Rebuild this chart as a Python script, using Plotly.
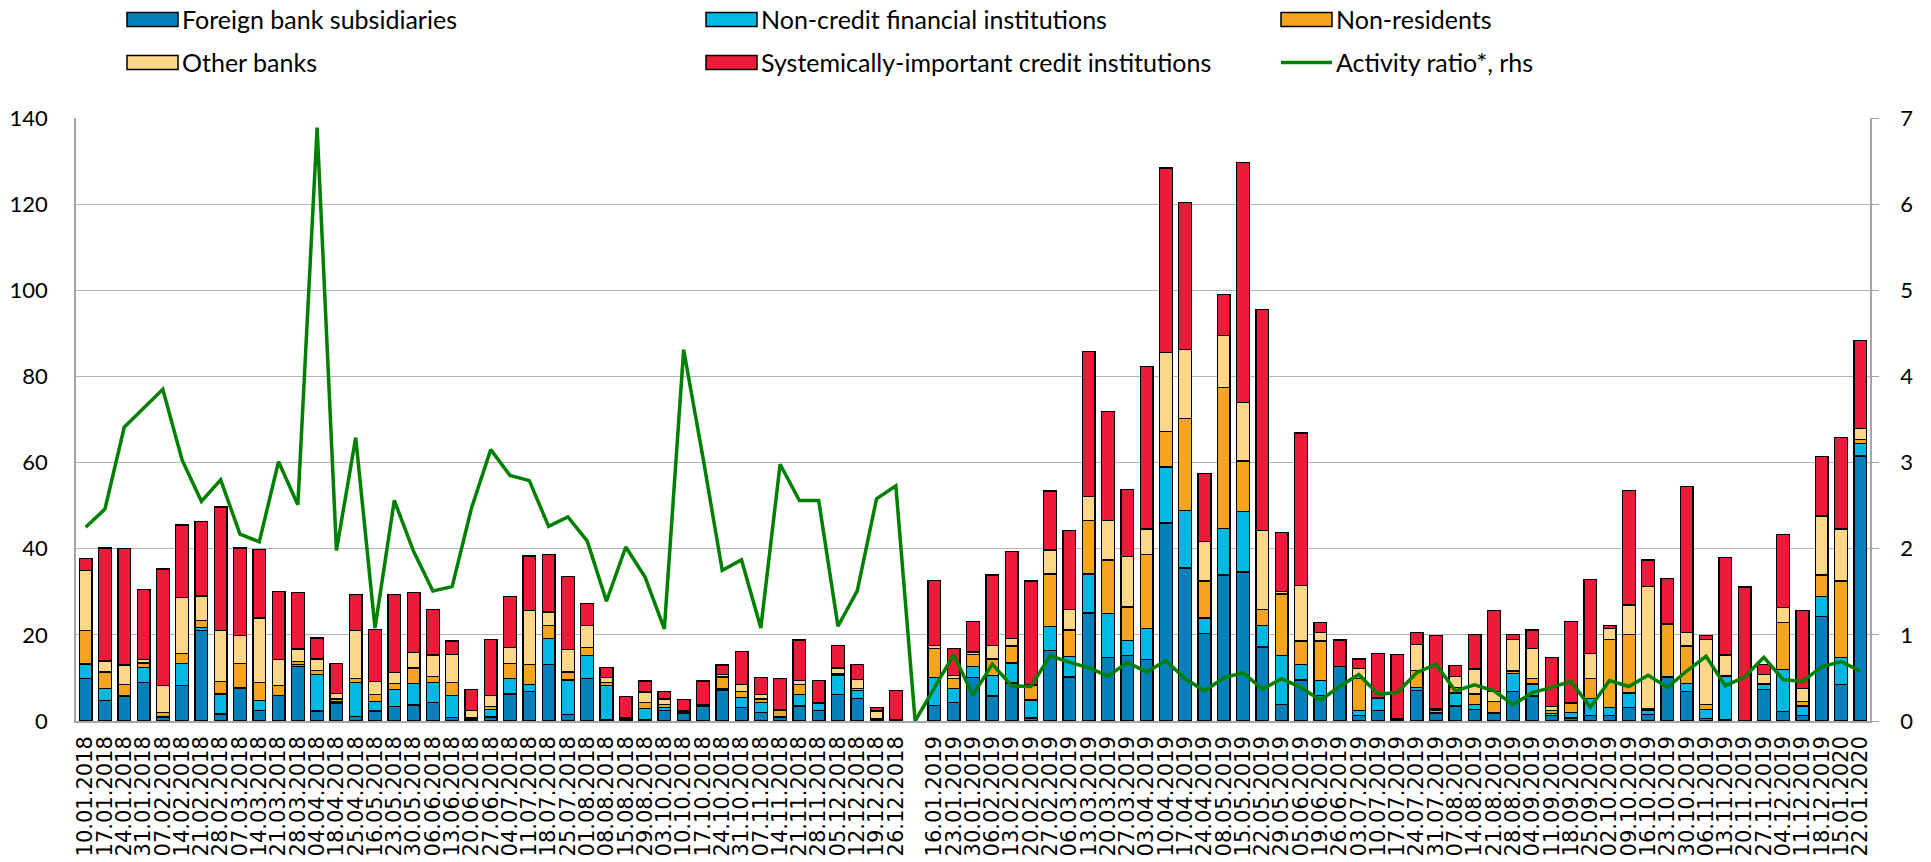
import plotly.graph_objects as go

dates = [
    "10.01.2018", "17.01.2018", "24.01.2018", "31.01.2018", "07.02.2018", "14.02.2018", "21.02.2018",
    "28.02.2018", "07.03.2018", "14.03.2018", "21.03.2018", "28.03.2018", "04.04.2018", "18.04.2018",
    "25.04.2018", "16.05.2018", "23.05.2018", "30.05.2018", "06.06.2018", "13.06.2018", "20.06.2018",
    "27.06.2018", "04.07.2018", "11.07.2018", "18.07.2018", "25.07.2018", "01.08.2018", "08.08.2018",
    "15.08.2018", "29.08.2018", "03.10.2018", "10.10.2018", "17.10.2018", "24.10.2018", "31.10.2018",
    "07.11.2018", "14.11.2018", "21.11.2018", "28.11.2018", "05.12.2018", "12.12.2018", "19.12.2018",
    "26.12.2018", " ",
    "16.01.2019", "23.01.2019", "30.01.2019", "06.02.2019", "13.02.2019", "20.02.2019", "27.02.2019",
    "06.03.2019", "13.03.2019", "20.03.2019", "27.03.2019", "03.04.2019", "10.04.2019", "17.04.2019",
    "24.04.2019", "08.05.2019", "15.05.2019", "22.05.2019", "29.05.2019", "05.06.2019", "19.06.2019",
    "26.06.2019", "03.07.2019", "10.07.2019", "17.07.2019", "24.07.2019", "31.07.2019", "07.08.2019",
    "14.08.2019", "21.08.2019", "28.08.2019", "04.09.2019", "11.09.2019", "18.09.2019", "25.09.2019",
    "02.10.2019", "09.10.2019", "16.10.2019", "23.10.2019", "30.10.2019", "06.11.2019", "13.11.2019",
    "20.11.2019", "27.11.2019", "04.12.2019", "11.12.2019", "18.12.2019", "15.01.2020", "22.01.2020",
]

foreign_bank_subsidiaries = [
    9.85, 4.7, 5.7, 9.0, 0.9, 8.2, 21.0, 1.6, 7.5, 2.4, 5.9, 12.7, 2.3, 4.2, 1.1, 2.3, 3.3, 3.7, 4.3, 0.8, 0.2,
    0.9, 6.3, 6.8, 13.1, 1.5, 9.8, 0.2, 0.1, 0.3, 2.4, 1.7, 3.5, 7.1, 3.1, 2.0, 0.8, 3.5, 2.5, 6.2, 5.2, 0.3,
    0.2, None,
    3.6, 4.3, 10.1, 5.8, 8.8, 0.7, 16.4, 10.2, 25.1, 14.7, 15.2, 14.3, 46.0, 35.5, 20.3, 33.9, 34.6, 17.2,
    3.8, 9.5, 6.0, 12.7, 1.2, 2.4, 0.3, 7.1, 1.7, 3.5, 2.7, 1.7, 6.9, 5.8, 1.3, 0.7, 1.3, 1.3, 3.2, 1.5,
    10.1, 6.9, 0.6, 0.2, 0.1, 7.3, 2.2, 1.2, 24.3, 8.5, 61.5,
]
non_credit_financial = [
    3.4, 2.8, 0.2, 3.5, 0.1, 5.2, 0.7, 4.7, 0.3, 2.3, 0.1, 0.5, 8.5, 0.4, 7.8, 2.2, 4.0, 5.0, 4.6, 5.1, 0.1,
    1.7, 3.6, 1.6, 6.0, 8.0, 5.4, 8.0, 0.0, 2.6, 0.7, 0.1, 0.0, 0.3, 2.3, 2.3, 0.3, 2.7, 1.5, 4.4, 1.9, 0.1,
    0.0, None,
    6.5, 3.2, 2.6, 4.8, 4.7, 4.2, 5.5, 4.7, 9.0, 10.3, 3.5, 7.2, 13.0, 13.4, 3.6, 10.8, 14.0, 5.0,
    11.4, 3.7, 3.4, 0.0, 1.2, 2.8, 0.1, 0.7, 0.3, 3.0, 1.1, 0.2, 4.1, 2.8, 0.5, 1.2, 3.9, 1.9, 3.3, 1.0,
    0.2, 1.8, 2.0, 10.1, 0.0, 1.1, 9.7, 2.3, 4.6, 6.2, 3.0,
]
non_residents = [
    7.7, 3.9, 2.6, 1.0, 1.0, 2.2, 1.6, 2.9, 5.6, 4.2, 2.3, 0.6, 0.9, 0.5, 1.0, 1.7, 1.4, 3.6, 1.5, 3.1, 0.4,
    0.8, 3.4, 4.8, 3.0, 1.9, 1.9, 0.8, 0.3, 1.4, 0.7, 0.2, 0.0, 2.8, 1.5, 0.8, 1.3, 2.3, 0.3, 0.3, 0.5, 0.2,
    0.0, None,
    6.7, 2.4, 2.8, 3.8, 3.9, 3.3, 12.2, 6.2, 12.4, 12.4, 7.8, 17.2, 8.2, 21.4, 8.6, 32.7, 11.8, 3.7,
    14.3, 5.4, 9.2, 0.0, 7.5, 0.3, 0.1, 4.0, 0.4, 1.2, 2.5, 2.7, 0.6, 1.3, 0.6, 2.1, 4.7, 15.8, 13.6, 0.3,
    12.2, 8.7, 1.2, 0.2, 0.0, 0.2, 11.0, 1.0, 5.0, 17.8, 0.9,
]
other_banks = [
    14.0, 2.5, 4.5, 0.8, 6.3, 13.0, 5.7, 11.8, 6.4, 15.0, 5.9, 2.9, 2.7, 1.3, 11.1, 3.0, 2.6, 3.6, 4.9, 6.5,
    1.8, 2.5, 3.7, 12.5, 3.2, 5.2, 5.1, 1.1, 0.3, 2.4, 1.3, 0.3, 0.3, 0.6, 1.5, 1.1, 0.2, 0.9, 0.0, 1.4, 2.0,
    1.7, 0.1, None,
    0.7, 0.7, 0.5, 3.2, 1.8, 0.2, 5.6, 4.8, 5.6, 9.2, 11.7, 5.9, 18.4, 16.0, 9.2, 12.1, 13.5, 18.3,
    0.5, 12.9, 2.0, 0.0, 2.3, 0.0, 0.0, 5.9, 0.4, 2.6, 5.8, 2.3, 7.4, 6.9, 1.0, 0.3, 5.8, 2.5, 6.8, 28.5,
    0.2, 3.2, 15.2, 4.8, 0.0, 2.2, 3.4, 3.0, 13.7, 12.1, 2.5,
]
systemically_important = [
    2.7, 26.3, 27.1, 16.3, 27.0, 16.9, 17.4, 28.7, 20.4, 15.9, 15.8, 13.1, 4.9, 7.0, 8.3, 12.1, 18.0, 13.9,
    10.6, 3.1, 4.8, 13.1, 11.9, 12.6, 13.4, 17.0, 5.1, 2.4, 5.0, 2.6, 1.8, 2.7, 5.5, 2.2, 7.8, 3.9, 7.3, 9.4,
    5.1, 5.2, 3.6, 0.9, 6.8, None,
    15.1, 6.2, 7.1, 16.3, 20.2, 24.1, 13.7, 18.4, 33.7, 25.3, 15.6, 37.7, 42.8, 34.1, 15.8, 9.5, 55.7, 51.4,
    13.7, 35.4, 2.3, 6.1, 2.2, 10.2, 14.9, 2.9, 17.1, 2.6, 8.0, 18.8, 1.1, 4.3, 11.3, 18.8, 17.1, 0.7, 26.6,
    6.1, 10.4, 33.8, 0.8, 22.6, 31.0, 2.4, 17.0, 18.1, 13.8, 21.3, 20.5,
]
activity_ratio = [
    2.25, 2.46, 3.41, 3.63, 3.85, 3.03, 2.55, 2.80, 2.17, 2.08, 3.01, 2.51, 6.89, 1.98, 3.29, 1.08, 2.56,
    1.97, 1.51, 1.56, 2.47, 3.15, 2.85, 2.79, 2.26, 2.37, 2.09, 1.39, 2.02, 1.67, 1.07, 4.31, 3.06, 1.75,
    1.87, 1.08, 2.98, 2.56, 2.56, 1.10, 1.51, 2.58, 2.73, 0.0,
    0.38, 0.77, 0.30, 0.66, 0.41, 0.40, 0.76, 0.68, 0.62, 0.52, 0.68, 0.57, 0.70, 0.49, 0.35, 0.50, 0.56,
    0.37, 0.49, 0.39, 0.24, 0.40, 0.54, 0.31, 0.33, 0.56, 0.66, 0.35, 0.42, 0.35, 0.19, 0.33, 0.39, 0.46,
    0.16, 0.47, 0.40, 0.53, 0.39, 0.58, 0.75, 0.41, 0.51, 0.74, 0.48, 0.46, 0.63, 0.69, 0.58,
]

y_ticks_left = [0, 20, 40, 60, 80, 100, 120, 140]
y_ticks_right = [0, 1, 2, 3, 4, 5, 6, 7]

series = [
    ("Foreign bank subsidiaries", foreign_bank_subsidiaries, "#0480BA"),
    ("Non-credit financial institutions", non_credit_financial, "#00B8E2"),
    ("Non-residents", non_residents, "#F6A31E"),
    ("Other banks", other_banks, "#FED687"),
    ("Systemically-important credit institutions", systemically_important, "#EC1C38"),
]
line_name = "Activity ratio*, rhs"
line_color = "#008000"

W, H = 1931, 862
L, R, T, B = 76, 1870, 118, 721

fig = go.Figure()
for name, vals, col in series:
    fig.add_trace(go.Bar(
        x=dates, y=vals, name=name, marker=dict(color=col, line=dict(color="#000000", width=1.3)),
        showlegend=False,
    ))
fig.add_trace(go.Scatter(
    x=dates, y=activity_ratio, name=line_name, mode="lines", yaxis="y2",
    line=dict(color=line_color, width=3.5), showlegend=False,
))

def px_x(p):
    return (p - L) / (R - L)

def px_y(p):
    return (B - p) / (B - T)

shapes = []
annotations = []
legend_cols = [127, 706, 1281]
legend_rows = [19.5, 62.5]
items = [(s[0], s[2], "bar") for s in series] + [(line_name, line_color, "line")]
for i, (name, col, kind) in enumerate(items):
    cx = legend_cols[i % 3]
    cy = legend_rows[i // 3]
    if kind == "bar":
        shapes.append(dict(type="rect", xref="paper", yref="paper",
                           x0=px_x(cx), x1=px_x(cx + 51), y0=px_y(cy + 7), y1=px_y(cy - 7),
                           fillcolor=col, line=dict(color="#000000", width=1.5)))
    else:
        shapes.append(dict(type="line", xref="paper", yref="paper",
                           x0=px_x(cx), x1=px_x(cx + 51), y0=px_y(cy), y1=px_y(cy),
                           line=dict(color=col, width=3.5)))
    annotations.append(dict(text=name, xref="paper", yref="paper", x=px_x(cx + 53), y=px_y(cy),
                            xanchor="left", yanchor="middle", showarrow=False,
                            font=dict(family="Lato", size=25, color="#000000")))

fig.update_layout(
    width=W, height=H,
    margin=dict(l=L, r=W - R, t=T, b=H - B, autoexpand=False),
    paper_bgcolor="white", plot_bgcolor="white",
    barmode="stack", bargap=0.34,
    showlegend=False,
    shapes=shapes, annotations=annotations,
    xaxis=dict(
        type="category", categoryorder="array", categoryarray=dates,
        tickmode="array", tickvals=dates, ticktext=dates,
        tickangle=-90, tickfont=dict(family="DejaVu Sans", size=21, color="#000000"),
        showline=True, linecolor="#a6a6a6", linewidth=1.5, ticks="", showgrid=False,
        ticklabelstandoff=5,
        range=[-0.5, len(dates) - 0.5], automargin=False,
    ),
    yaxis=dict(
        range=[0, 140], tickvals=y_ticks_left, showgrid=True, gridcolor="#b4b4b4", gridwidth=1.3,
        showline=True, linecolor="#a6a6a6", linewidth=1.5, ticks="", zeroline=False,
        tickfont=dict(family="Lato", size=22, color="#000000"), ticklabelstandoff=22, automargin=False,
    ),
    yaxis2=dict(
        range=[0, 7], tickvals=y_ticks_right, overlaying="y", side="right", showgrid=False,
        showline=True, linecolor="#a6a6a6", linewidth=1.5, ticks="outside", ticklen=7,
        tickcolor="#a6a6a6", zeroline=False,
        tickfont=dict(family="Lato", size=22, color="#000000"), ticklabelstandoff=17, automargin=False,
    ),
)

fig.write_html(
    "out.html",
    config={"displayModeBar": False},
    post_script="document.body.style.margin='0';document.body.style.padding='0';document.body.style.overflow='hidden';",
)
